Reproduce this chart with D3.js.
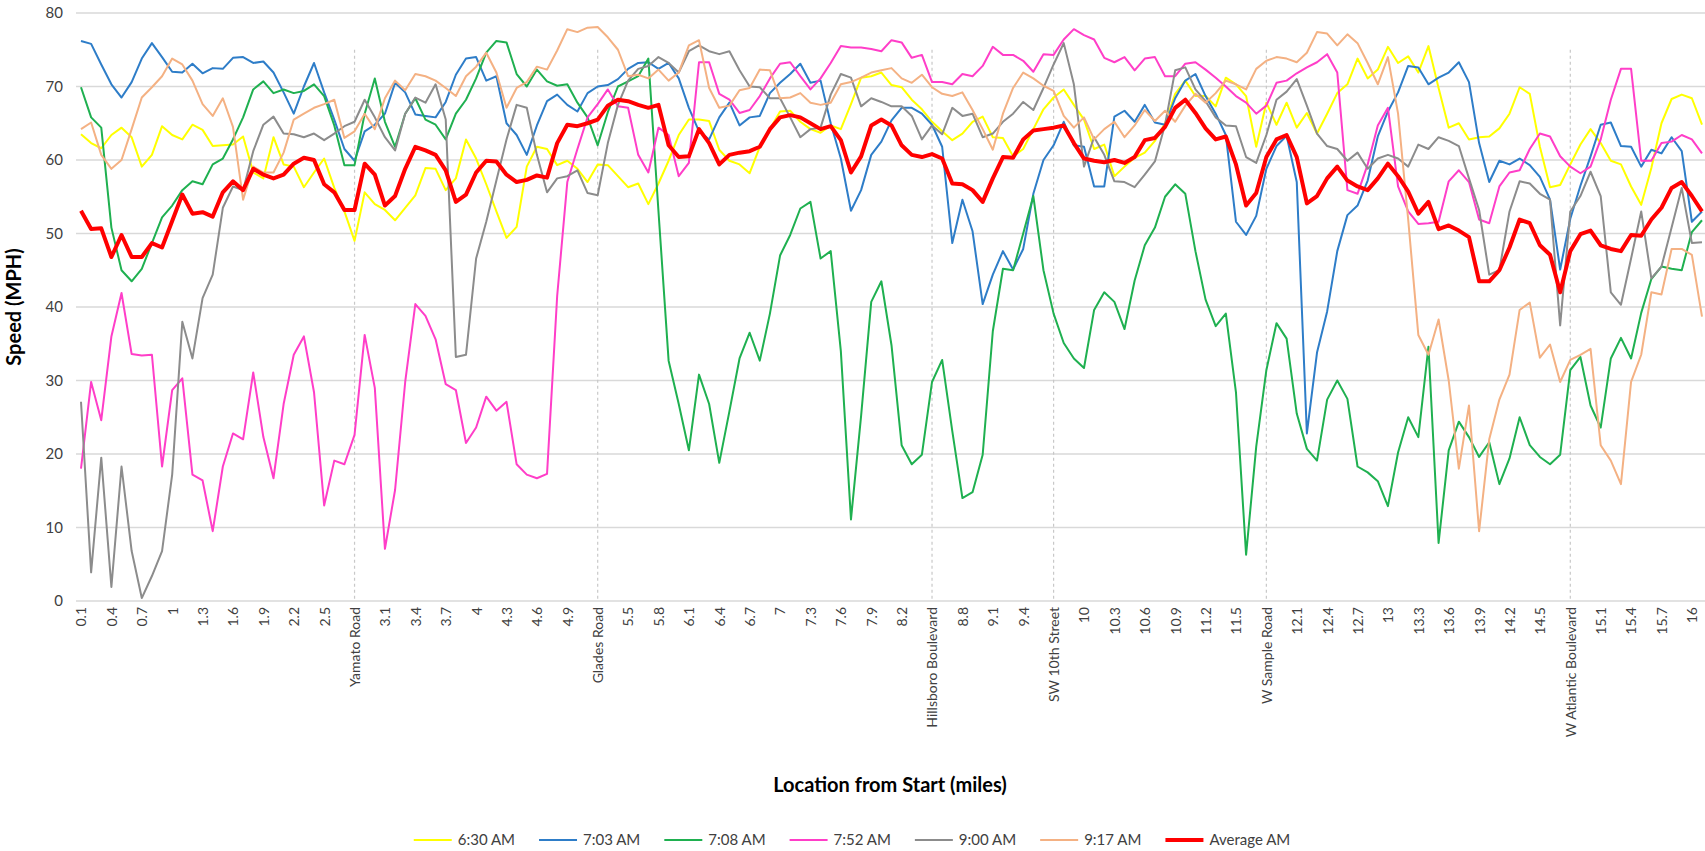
<!DOCTYPE html>
<html><head><meta charset="utf-8">
<script src="https://cdn.jsdelivr.net/npm/d3@7"></script>
<style>
html,body{margin:0;padding:0;background:#fff;}
svg{display:block;font-family:Lato,"Open Sans",sans-serif;}
</style></head>
<body><svg id="chart" width="1705" height="851"></svg>
<script>
// ---- DATA ----
const categories = d3.range(1, 162).map(d => d / 10); // miles 0.1 .. 16.1 (161 points)
const roadLabels = [
  {idx: 27, name: "Yamato Road"},
  {idx: 51, name: "Glades Road"},
  {idx: 84, name: "Hillsboro Boulevard"},
  {idx: 96, name: "SW 10th Street"},
  {idx: 117, name: "W Sample Road"},
  {idx: 147, name: "W Atlantic Boulevard"}
];
const yTicks = [0, 10, 20, 30, 40, 50, 60, 70, 80];

const s0630 = [63.5,62.3,61.6,63.4,64.4,63.1,59.1,60.7,64.6,63.4,62.8,64.8,64.1,61.9,
62,62.1,63.2,58.3,57.5,63.1,59.4,59.1,56.3,58.3,60.2,56.2,53,
49,55.6,54,53.2,51.8,53.5,55.2,58.9,58.8,55.9,57.5,62.8,60.2,
56.7,53,49.4,50.9,59.1,61.8,61.5,59.3,59.9,58.8,57,59.4,59.3,57.8,
56.3,56.8,54,56.8,59.9,63.4,65.5,65.5,65.3,61.4,59.9,59.4,58.2,
61.8,64.2,66.6,66.7,65.2,64.2,63.7,64.7,64.2,67.6,71.2,71.4,71.9,70.2,
69.9,68.2,66.9,65.2,63.9,62.7,63.6,65.2,65.9,63.1,63,60.5,61.5,
64.2,66.9,68.5,69.6,67.5,65.5,61.5,62.1,57.8,59.1,60.3,61,62.6,
65,69,70.8,68.7,68.7,67.3,71.2,70.3,68.7,61.8,67.8,64.8,67.8,
64.4,66.4,63.6,66.3,69.1,70.3,73.8,71.1,72.3,75.4,73.2,74.1,71.9,
75.5,69.8,64.4,65,62.8,63.1,63.2,64.3,66.3,69.9,69,61.8,56.3,
56.6,59.4,62.1,64.2,62.3,59.9,59.4,56.4,53.9,58.9,65,68.3,68.9,68.4,64.8];

const s0703 = [76.2,75.8,73,70.3,68.5,70.6,73.8,75.9,74,72,71.9,73.1,71.8,72.5,
72.4,73.9,74,73.2,73.4,71.9,69.2,66.3,70,73.2,69.2,65.5,61.5,
59.9,63.9,64.8,66.3,70.5,69.2,66.2,66,65.8,67.9,71.6,73.8,74,
70.8,71.4,65,63.4,60.7,64.7,68,68.9,67.5,66.6,69.1,70,70.2,71,
72.4,73.2,73.3,72.4,73.2,71.1,67.1,63.9,62.8,65.8,67.8,64.7,65.8,
66,69.1,70.5,71.7,73.1,70.5,70.8,65,60.2,53.1,55.9,60.7,62.5,65.4,
67.1,67.1,66.3,64.8,61.8,48.7,54.6,50.3,40.4,44.4,47.6,45.1,47.9,
55.4,60,62,65.2,62,61.8,56.4,56.4,65.9,66.7,65.2,67.5,65.1,
64.8,68.4,70.8,71.7,68.7,66.3,63.4,51.6,49.8,52.4,58.8,61.9,63.3,
57,22.8,33.8,39.4,47.6,52.5,53.8,57.2,63.2,66.6,69.2,72.8,72.6,
70.3,71.2,71.9,73.3,70.6,62.3,57,59.9,59.4,60.2,59.3,57.7,54.6,
45.1,52,56.5,60.5,64.8,65.1,61.9,61.8,59.1,61.4,60.9,63.1,61.2,51.6,53];

const s0708 = [69.9,65.8,64.4,50.8,45,43.5,45.2,48.7,52.2,53.8,55.9,57.1,56.7,59.4,
60.2,62.8,65.8,69.6,70.7,69.1,69.6,69.1,69.4,70.3,68.7,64.7,59.3,
59.3,66.3,71.1,65.2,61.8,66.3,68.4,65.5,64.8,62.8,66.3,68.2,71.1,
74.6,76.2,76,71.7,70,72.3,70.7,70.1,70.3,67.8,65.8,62,66.5,70,
70.7,71.4,73.8,53,32.7,26.8,20.5,30.8,26.8,18.8,25.8,33,36.5,
32.7,39.1,47,49.8,53.4,54.3,46.6,47.6,34,11.1,25.2,40.7,43.5,34.8,
21.2,18.6,19.9,29.8,32.8,23.1,14,14.8,19.9,36.7,45.2,45,50,
55.1,45,39.1,35.1,33,31.7,39.6,42,40.7,37,43.6,48.4,50.8,
55,56.7,55.4,47.6,41,37.4,39.1,28.4,6.3,21,31.4,37.8,35.7,
25.5,20.7,19.1,27.4,30,27.5,18.3,17.5,16.3,12.9,20.2,25,22.3,
34.6,7.9,20.5,24.4,22.3,19.6,21.6,15.9,19.4,25,21.2,19.6,18.6,
19.9,31.4,33.2,26.6,23.6,33,35.8,33,39.2,43.8,45.5,45.2,45,50.2,51.8];

const s0752 = [18,29.8,24.6,36,41.9,33.6,33.4,33.5,18.3,28.7,30.3,17.2,16.4,9.5,
18.3,22.8,22,31.1,22.3,16.7,26.8,33.5,36,28.4,13,19.1,18.6,
22.6,36.2,29,7.1,15.1,29.8,40.4,38.8,35.6,29.5,28.7,21.5,23.6,
27.8,25.9,27.1,18.6,17.2,16.7,17.3,41.5,57,61.5,65.8,67.6,69.6,67.3,
67.1,60.7,58.3,64.4,63.4,57.8,59.6,73.3,73.3,69,68.2,66.4,66.8,
68.7,71.1,73.1,73.3,71.4,69.6,71.1,73.2,75.5,75.3,75.3,75.1,74.8,76.3,
76,73.9,74.3,70.6,70.6,70.3,71.7,71.4,72.8,75.4,74.3,74.3,73.5,
72,74.4,74.3,76.4,77.8,77,76.4,73.9,73.3,74,72.2,73.8,74,
71.4,71.4,73.1,73.3,72.3,71.2,70,68.7,67.8,66.3,67.4,70.5,70.8,
71.8,72.6,73.3,74.4,71.9,55.9,55.4,59.4,64.7,67.1,56.4,53,51.3,
51.4,51.6,57.1,58.6,57,51.9,51.4,56.4,58.3,58.6,61.5,63.6,63.2,
60.5,59.1,58.2,59.1,62.8,68.2,72.4,72.4,59.9,59.9,62.3,62.5,63.4,62.8,60.9];

const s0900 = [27.1,3.9,19.5,1.9,18.3,6.8,0.4,3.4,6.8,17.2,38,33,41.2,44.4,
53.5,56.4,55.9,61.2,64.8,65.9,63.6,63.5,63.1,63.6,62.7,63.6,64.6,
65.2,68.2,65.8,63.1,61.3,66.3,68.5,67.8,70.3,65.5,33.2,33.5,46.6,
51.6,57.2,62.8,67.5,67.1,60.7,55.6,57.5,57.8,58.6,55.5,55.2,62.3,67.5,
70.8,72.4,72.8,74,73.2,71.9,74.8,75.6,74.8,74.4,74.8,72.2,70,
69.9,68.4,68.4,65.8,63.1,64.2,64.4,68.9,71.7,71.2,67.3,68.4,67.9,67.3,
67.3,66,62.8,64.7,63.5,67.1,66,66.3,63.1,63.6,65.2,66.3,67.9,
66.8,69.8,73,75.9,70.3,59.1,63.1,60.7,57.1,57,56.3,58,59.8,
64.8,72.2,72.6,69.6,68,65.8,64.7,64.6,60.4,59.6,63.4,68.2,69.3,
71,67.4,63.6,61.9,61.5,59.9,61,58.8,60.2,60.7,60.2,59.1,62.1,
61.5,63.1,62.6,61.9,57.5,53.2,44.4,45,53,57.1,56.8,55.4,54.6,
37.5,53,55.1,58.4,55.1,42,40.3,46.6,53,43.9,45.5,50.8,56.2,48.7,48.8];

const s0917 = [64.2,65.1,60.7,58.8,60,64.2,68.5,69.9,71.4,73.8,73,70.8,67.6,66,
68.4,64.5,54.6,59.1,58.3,58.3,61,65.5,66.3,67.1,67.6,68.2,63,
63.9,66.3,64.2,68.4,70.8,69.5,71.7,71.4,70.8,69.8,68.7,71.4,72.7,
74.6,71.9,67.1,69.8,70.6,72.7,72.3,74.9,77.8,77.4,78,78.1,76.7,75,
71.4,71.6,71.1,72.3,70.8,71.9,75.6,76.3,69.8,67.1,67.4,69.5,69.8,
72.3,72.2,68.4,68.5,69.1,67.8,67.5,67.8,70.3,70.6,71.2,71.9,72.2,72.5,
71.1,70.5,71.6,69.9,69,68.7,69.2,66.8,64.2,61.4,66.3,69.8,71.9,
71.1,70.1,69.4,66,64.4,65.8,62.8,64.2,65.2,63.1,64.7,66.8,65.3,
66.7,65.2,67.4,69,67.8,69.1,70.8,70.3,69.6,72.4,73.5,74,73.8,
73.3,74.6,77.4,77.2,75.6,77.1,75.9,73.2,70.3,74,66.3,51.9,36.2,
33.5,38.3,30,18,26.6,9.5,22,27.4,30.8,39.6,40.6,33.1,34.9,
29.8,32.8,33.5,34.3,21.2,19.1,15.9,29.8,33.5,42,41.7,47.9,47.9,47.1,38.7];

const sAvg = [53.1,50.6,50.7,46.8,49.8,46.8,46.8,48.7,48.1,51.7,55.3,52.7,52.9,52.3,
55.6,57.1,55.9,58.8,58,57.5,58,59.5,60.3,60,56.7,55.6,53.2,
53.2,59.5,58,53.8,55.1,58.8,61.8,61.3,60.7,58.6,54.3,55.3,58.3,
59.9,59.8,58,57,57.3,57.9,57.6,62.3,64.8,64.6,65,65.5,67.4,68.2,
68,67.5,67.1,67.5,62,60.4,60.5,64.2,62.3,59.4,60.7,61,61.2,
61.8,64.2,65.8,66.1,65.8,65,64.2,64.6,62.7,58.3,60.5,64.7,65.5,64.7,
62,60.7,60.4,60.8,60.2,56.8,56.7,55.9,54.3,57.5,60.4,60.3,62.8,
64,64.2,64.4,64.7,62.3,60.2,59.9,59.7,60,59.6,60.4,62.7,63,
64.5,67.1,68.2,66.4,64.3,62.8,63.2,59.4,53.8,55.5,60.4,62.8,63.4,
60.4,54.1,55.1,57.5,59.1,57.2,56.4,55.9,57.5,59.5,57.8,55.7,52.7,
54.3,50.6,51.1,50.4,49.5,43.5,43.5,45,48.1,51.9,51.4,48.4,47.1,
42,47.6,49.9,50.4,48.4,47.9,47.6,49.8,49.7,51.9,53.5,56.2,57,55.1,53];

const seriesNames = ["6:30 AM","7:03 AM","7:08 AM","7:52 AM","9:00 AM","9:17 AM","Average AM"];
const seriesValues = [s0630, s0703, s0708, s0752, s0900, s0917, sAvg];
const seriesColors = ["#FFFF00","#2E7DC8","#1FB050","#FF3EC8","#8C8C8C","#F4B183","#FF0000"];
const seriesWidths = [2, 2, 2, 2, 2, 2, 4];

// ---- LAYOUT ----
const W = 1705, H = 851;
const plotLeft = 76, plotRight = 1705, plotTop = 13, plotBottom = 601;
const svg = d3.select("#chart");

const x = d3.scalePoint().domain(categories).range([81, 1702]);
const y = d3.scaleLinear().domain([0, 80]).range([plotBottom, plotTop]);

// gridlines
svg.append("g").selectAll("line").data(yTicks).join("line")
  .attr("x1", plotLeft).attr("x2", plotRight)
  .attr("y1", d => y(d)).attr("y2", d => y(d))
  .attr("stroke", "#d9d9d9").attr("stroke-width", 1.3);

// y axis labels
const yAxis = d3.axisLeft(y).tickValues(yTicks).tickSize(0).tickPadding(0);
const yg = svg.append("g").attr("transform", `translate(63,0)`).call(yAxis);
yg.select(".domain").remove();
yg.selectAll("text").attr("font-size", 15).attr("fill", "#404040")
  .attr("font-family", "Lato, sans-serif");

// road dashed lines
svg.append("g").selectAll("line").data(roadLabels).join("line")
  .attr("x1", d => x(categories[d.idx])).attr("x2", d => x(categories[d.idx]))
  .attr("y1", y(75)).attr("y2", y(0))
  .attr("stroke", "#c8c8c8").attr("stroke-width", 1.2)
  .attr("stroke-dasharray", "3,3");

// x tick labels (every third category; road names replace the mileage)
const roadMap = new Map(roadLabels.map(r => [r.idx, r.name]));
const fmt = d => String(+d.toFixed(1));
const xTickCats = categories.filter((c, i) => i % 3 === 0);
const xTickLabels = categories.map((c, i) => roadMap.has(i) ? roadMap.get(i) : fmt(c));
const xAxis = d3.axisBottom(x).tickValues(xTickCats)
  .tickFormat(c => xTickLabels[categories.indexOf(c)]).tickSize(0).tickPadding(0);
const xg = svg.append("g").attr("transform", `translate(0,${plotBottom})`).call(xAxis);
xg.select(".domain").remove();
xg.selectAll("text")
  .attr("font-size", 14).attr("fill", "#404040").attr("font-family", "Lato, sans-serif")
  .attr("text-anchor", "end")
  .attr("transform", "translate(0,6) rotate(-90)")
  .attr("x", 0).attr("y", 0).attr("dy", "0.35em");

// lines
const line = d3.line().x((d, i) => x(categories[i])).y(d => y(d));
const lg = svg.append("g");
seriesValues.forEach((vals, k) => {
  lg.append("path").datum(vals)
    .attr("d", line).attr("fill", "none")
    .attr("stroke", seriesColors[k]).attr("stroke-width", seriesWidths[k])
    .attr("stroke-linejoin", "round");
});

// axis titles
svg.append("text").attr("transform", `translate(21,${(plotTop+plotBottom)/2}) rotate(-90)`)
  .attr("text-anchor", "middle").attr("font-size", 20).attr("font-weight", "bold")
  .attr("fill", "#000").text("Speed (MPH)");
svg.append("text").attr("x", 890).attr("y", 792)
  .attr("text-anchor", "middle").attr("font-size", 20).attr("font-weight", "bold")
  .attr("fill", "#000").text("Location from Start (miles)");

// legend
const leg = svg.append("g");
const legY = 840;
const items = [];
seriesNames.forEach((name, k) => {
  const g = leg.append("g");
  g.append("line").attr("x1", 0).attr("x2", 38).attr("y1", 0).attr("y2", 0)
    .attr("stroke", seriesColors[k]).attr("stroke-width", seriesWidths[k]);
  const t = g.append("text").attr("x", 44).attr("y", 0).attr("dy", "0.35em")
    .attr("font-size", 15).attr("fill", "#404040").text(name);
  const w = 44 + t.node().getComputedTextLength();
  items.push({g, w});
});
const gap = 24;
const total = d3.sum(items, d => d.w) + gap * (items.length - 1);
let start = 852 - total / 2;
items.forEach(it => { it.g.attr("transform", `translate(${start},${legY})`); start += it.w + gap; });
</script></body></html>
